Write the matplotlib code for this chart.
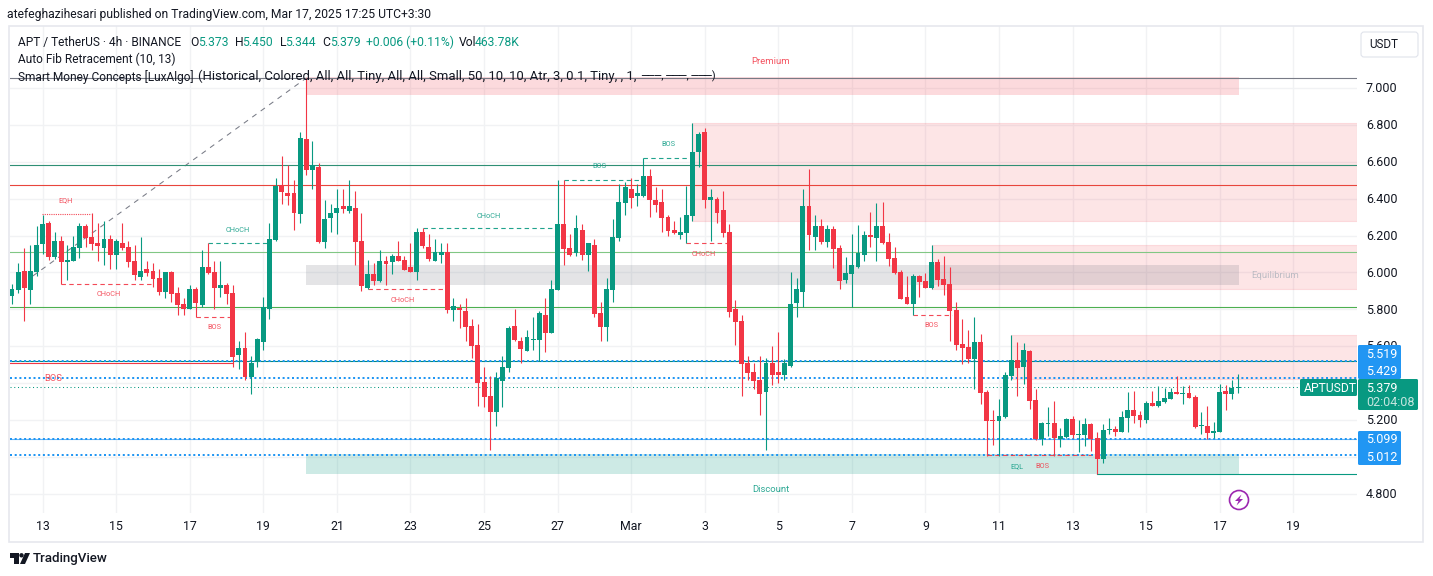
import matplotlib
matplotlib.use("Agg")
import matplotlib.pyplot as plt
from matplotlib.patches import Rectangle, FancyBboxPatch, Circle, Polygon

plt.rcParams['font.family'] = ['Roboto', 'DejaVu Sans']

opens = [5.873,5.905,6.008,5.905,6.003,6.155,6.268,6.084,6.171,6.057,6.062,6.133,6.252,6.192,6.160,6.133,6.182,6.095,6.160,6.138,
         6.062,5.976,6.019,6.008,5.970,5.894,6.003,5.889,5.829,5.802,5.911,5.824,6.030,6.003,5.916,5.932,5.889,5.553,5.591,5.434,
         5.517,5.623,5.802,6.176,6.474,6.431,6.431,6.317,6.724,6.556,6.572,6.165,6.295,6.323,6.361,6.333,6.350,6.171,5.916,5.992,
         5.954,6.062,6.057,6.089,6.068,6.030,6.003,6.220,6.138,6.062,6.095,6.111,5.797,5.808,5.791,5.710,5.607,5.407,5.331,5.244,
         5.412,5.482,5.710,5.629,5.575,5.634,5.634,5.770,5.672,5.905,6.263,6.133,6.106,6.230,6.095,6.149,5.781,5.705,5.905,6.187,
         6.377,6.453,6.415,6.415,6.523,6.393,6.382,6.301,6.231,6.203,6.214,6.306,6.653,6.762,6.393,6.399,6.339,6.220,5.802,5.737,
         5.510,5.461,5.418,5.353,5.510,5.461,5.445,5.493,5.835,5.895,6.361,6.193,6.252,6.166,6.236,6.133,5.960,5.992,6.030,6.095,
         6.203,6.187,6.252,6.166,6.079,6.003,5.867,5.829,5.981,5.954,5.916,6.057,5.965,5.938,5.797,5.612,5.596,5.531,5.623,5.352,
         5.200,5.195,5.217,5.439,5.526,5.488,5.574,5.309,5.097,5.179,5.184,5.097,5.108,5.206,5.119,5.119,5.179,5.103,4.989,5.146,
         5.152,5.135,5.211,5.255,5.227,5.200,5.293,5.276,5.298,5.314,5.352,5.343,5.347,5.325,5.168,5.168,5.130,5.135,5.358,5.341,5.373]
highs = [5.938,6.050,6.133,6.149,6.252,6.312,6.279,6.220,6.198,6.149,6.198,6.268,6.263,6.321,6.268,6.279,6.203,6.182,6.268,6.171,
         6.149,6.192,6.062,6.050,6.019,6.003,6.008,5.921,5.862,5.932,5.921,6.122,6.158,6.062,6.062,5.945,5.932,5.629,5.678,5.548,
         5.642,5.867,6.268,6.512,6.631,6.583,6.501,6.762,7.054,6.713,6.594,6.393,6.371,6.453,6.453,6.501,6.442,6.323,6.068,6.052,
         6.122,6.089,6.100,6.171,6.089,6.160,6.241,6.241,6.209,6.182,6.160,6.160,5.862,5.829,5.862,5.748,5.721,5.488,5.439,5.461,
         5.548,5.710,5.802,5.651,5.688,5.759,5.791,5.862,5.959,6.501,6.501,6.209,6.312,6.263,6.162,6.182,5.840,5.970,6.290,6.480,
         6.491,6.511,6.480,6.619,6.561,6.464,6.453,6.312,6.279,6.301,6.469,6.809,6.762,6.783,6.453,6.409,6.442,6.263,5.851,5.770,
         5.548,5.510,5.548,5.537,5.602,5.678,5.531,6.003,5.970,6.453,6.561,6.312,6.290,6.258,6.252,6.149,6.084,6.209,6.258,6.225,
         6.328,6.377,6.382,6.214,6.138,6.014,5.981,5.992,5.986,5.998,6.149,6.073,6.089,6.030,5.840,5.748,5.688,5.759,5.667,5.363,
         5.255,5.314,5.461,5.661,5.623,5.618,5.582,5.368,5.190,5.271,5.303,5.157,5.211,5.222,5.200,5.211,5.184,5.135,5.179,5.211,
         5.168,5.249,5.352,5.358,5.249,5.303,5.358,5.385,5.374,5.374,5.439,5.385,5.390,5.336,5.244,5.276,5.190,5.396,5.390,5.417,5.450]
lows = [5.829,5.891,5.737,5.829,5.981,6.100,6.068,6.071,5.936,5.959,6.060,6.079,6.138,6.122,6.062,6.041,6.019,6.019,6.122,6.030,
        5.959,5.959,5.981,5.923,5.878,5.862,5.840,5.770,5.770,5.800,5.759,5.813,5.992,5.802,5.867,5.829,5.488,5.477,5.418,5.342,
        5.488,5.580,5.748,6.168,6.371,6.366,6.230,6.268,6.529,6.453,6.160,6.133,6.220,6.209,6.323,6.323,6.041,5.900,5.911,5.932,
        5.949,5.932,5.992,6.060,6.012,6.001,5.959,6.133,6.062,6.060,6.052,5.781,5.737,5.699,5.629,5.537,5.276,5.271,5.038,5.168,
        5.271,5.461,5.629,5.510,5.573,5.580,5.520,5.569,5.670,5.903,6.041,6.089,6.089,6.068,6.008,5.759,5.629,5.629,5.840,6.171,
        6.312,6.350,6.361,6.409,6.301,6.328,6.220,6.198,6.209,6.182,6.158,6.279,6.572,6.350,6.171,6.269,6.193,5.759,5.607,5.331,
        5.418,5.369,5.228,5.038,5.390,5.401,5.418,5.488,5.759,5.813,6.122,6.122,6.155,6.138,6.025,5.911,5.943,5.811,6.025,6.063,
        6.138,6.063,6.155,6.035,5.992,5.855,5.827,5.770,5.867,5.914,5.911,5.927,5.878,5.629,5.580,5.504,5.509,5.368,5.287,5.005,
        5.065,5.005,5.211,5.417,5.330,5.396,5.260,5.092,5.065,5.114,5.005,5.054,5.103,5.103,5.027,5.059,5.032,4.908,4.967,5.124,
        5.114,5.133,5.135,5.184,5.162,5.184,5.274,5.271,5.293,5.312,5.339,5.287,5.318,5.157,5.124,5.097,5.103,5.133,5.255,5.314,5.344]
closes = [5.911,6.003,5.916,6.008,6.149,6.263,6.084,6.171,6.057,6.068,6.138,6.252,6.187,6.155,6.144,6.182,6.095,6.171,6.133,6.057,
          5.987,6.008,5.997,5.965,5.894,6.003,5.884,5.824,5.802,5.911,5.835,6.030,5.997,5.916,5.932,5.884,5.542,5.591,5.434,5.510,
          5.640,5.811,6.182,6.471,6.436,6.414,6.323,6.729,6.556,6.583,6.165,6.290,6.323,6.350,6.344,6.361,6.165,5.927,5.992,5.954,
          6.062,6.046,6.089,6.062,6.014,6.003,6.220,6.144,6.073,6.111,6.111,5.797,5.818,5.797,5.705,5.602,5.401,5.325,5.244,5.428,
          5.488,5.699,5.634,5.585,5.651,5.640,5.781,5.672,5.911,6.263,6.127,6.095,6.241,6.095,6.160,5.775,5.705,5.911,6.192,6.382,
          6.464,6.404,6.431,6.523,6.393,6.366,6.296,6.225,6.214,6.220,6.312,6.653,6.751,6.393,6.409,6.323,6.214,5.786,5.732,5.504,
          5.456,5.412,5.342,5.510,5.445,5.445,5.510,5.829,5.911,6.361,6.203,6.252,6.166,6.236,6.128,5.954,5.998,6.041,6.106,6.203,
          6.193,6.252,6.160,6.073,5.998,5.857,5.829,5.981,5.949,5.916,6.057,5.960,5.932,5.791,5.607,5.591,5.531,5.623,5.347,5.195,
          5.195,5.222,5.444,5.526,5.482,5.580,5.303,5.097,5.184,5.184,5.103,5.114,5.206,5.119,5.124,5.179,5.097,4.989,5.146,5.152,
          5.135,5.217,5.255,5.222,5.200,5.293,5.276,5.303,5.320,5.352,5.341,5.347,5.320,5.162,5.173,5.130,5.141,5.352,5.341,5.374,5.379]

grid_prices = [7.0, 6.8, 6.6, 6.4, 6.2, 6.0, 5.8, 5.6, 5.4, 5.2, 5.0, 4.8]
price_ticks = [7.0, 6.8, 6.6, 6.4, 6.2, 6.0, 5.8, 5.6, 5.2, 4.8]
price_labels = ['7.000', '6.800', '6.600', '6.400', '6.200', '6.000', '5.800', '5.600', '5.200', '4.800']
date_ticks = [5, 17, 29, 41, 53, 65, 77, 89, 101, 113, 125, 137, 149, 161, 173, 185, 197, 209]
date_labels = ['13', '15', '17', '19', '21', '23', '25', '27', 'Mar', '3', '5', '7', '9', '11', '13', '15', '17', '19']

GREEN, RED, BLUE = '#089981', '#f23645', '#2196f3'
W, H = 1433, 576
XL, XR = -0.33, 219.4
fig = plt.figure(figsize=(W / 100, H / 100), dpi=100, facecolor='white')

# pane: px x 10..1357, y 26..513
ax = fig.add_axes([10 / W, 1 - 513 / H, 1347 / W, 487 / H])
ax.set_xlim(XL, XR)
ax.set_ylim(4.696, 7.336)
for s in ax.spines.values():
    s.set_visible(False)
ax.set_yticks(grid_prices)
ax.set_yticklabels([])
ax.set_xticks(date_ticks)
ax.set_xticklabels([])
ax.tick_params(length=0)
ax.grid(True, color='#f1f2f4', lw=1.0, zorder=0)
ax.set_axisbelow(True)

# zones (i0, i1, low, high, colour, alpha, edge width)
zones = [(48, 200.2, 6.962, 7.057, RED, .18, 0), (111, XR, 6.281, 6.809, RED, .13, .8),
         (150, XR, 5.912, 6.149, RED, .13, .8), (163, XR, 5.423, 5.661, RED, .13, .8),
         (48, 200.2, 5.932, 6.041, '#787b86', .2, 0), (48, 200.2, 4.908, 5.016, GREEN, .2, 0)]
for i0, i1, lo, hi, c, a, e in zones:
    ax.add_patch(Rectangle((i0, lo), i1 - i0, hi - lo, fc=c, alpha=a, ec=c, lw=e, zorder=1))

# fib levels
ax.plot([3.4, 48], [5.981, 7.054], color='#787b86', lw=.75, dashes=(5, 5), zorder=2)
levels = [(7.054, '#787b86'), (6.583, '#2f8f74'), (6.4725, '#e8453c'), (6.109, '#81c784'), (5.811, '#4caf50'), (5.520, '#00897b')]
for p, c in levels:
    ax.axhline(p, color=c, lw=.8, zorder=2)
ax.plot([XL, 36], [5.508, 5.508], color=RED, lw=.8, zorder=2)
ax.plot([177, XR], [4.908, 4.908], color=GREEN, lw=.8, zorder=2)

# price lines
ax.axhline(5.099, color='#64b5f6', lw=.8, zorder=2)
for p in [5.519, 5.429, 5.099, 5.012]:
    ax.plot([XL, XR], [p, p], color=BLUE, lw=1.44, dashes=(1, 1.35), zorder=2.2)
ax.plot([XL, XR], [5.379, 5.379], color=GREEN, lw=.75, dashes=(1, 2.6), zorder=2.2)

# structure lines (i0, i1, price, colour, style)
structure = [(4.9, 12.9, 6.315, RED, (1, 1)), (8, 22.8, 5.936, RED, (4, 3)), (32, 42, 6.158, GREEN, (4, 3)),
             (30, 36, 5.757, RED, (4, 3)), (58, 71, 5.909, RED, (4, 3)), (67, 89, 6.239, GREEN, (4, 3)),
             (90, 102.6, 6.500, GREEN, (4, 3)), (103, 111, 6.620, GREEN, (4, 3)), (110, 117, 6.158, RED, (4, 3)),
             (147, 153.3, 5.770, RED, (4, 3)), (159, 176, 5.009, RED, (4, 3))]
for i0, i1, p, c, d in structure:
    ax.plot([i0, i1], [p, p], color=c, lw=.8, dashes=d, alpha=.9, zorder=2.5)

# candles
for i, (o, h, l, c) in enumerate(zip(opens, highs, lows, closes)):
    col = GREEN if c >= o else RED
    ax.vlines(i, l, h, color=col, lw=.8, zorder=3)
    ax.bar(i, max(abs(c - o), .006), bottom=min(o, c), width=.8, color=col, lw=0, zorder=3.1)

# structure labels (i, price, text, colour, size)
labels = [(8.8, 6.388, 'EQH', RED, 5.3), (15.8, 5.878, 'CHoCH', RED, 5.3), (36.9, 6.230, 'CHoCH', GREEN, 5.3),
          (33, 5.699, 'BOS', RED, 5.3), (6.7, 5.423, 'BOS', RED, 6.8), (63.8, 5.846, 'CHoCH', RED, 5.3),
          (77.8, 6.306, 'CHoCH', GREEN, 5.3), (95.8, 6.572, 'BOS', GREEN, 5.3), (107, 6.691, 'BOS', GREEN, 5.3),
          (112.9, 6.095, 'CHoCH', RED, 5.3), (150, 5.710, 'BOS', RED, 5.3), (164, 4.946, 'EQL', GREEN, 5.3),
          (168, 4.946, 'BOS', RED, 5.3), (123.8, 7.146, 'Premium', RED, 6.8), (123.8, 4.821, 'Discount', GREEN, 6.8),
          (206, 5.981, 'Equilibrium', '#b2b5be', 6.8)]
for i, p, t_, c, s in labels:
    ax.text(i, p, t_, color=c, fontsize=s, ha='center', va='center', alpha=.85, zorder=4)

# chrome overlay in pixel space
ov = fig.add_axes([0, 0, 1, 1], facecolor='none')
ov.set_xlim(0, W)
ov.set_ylim(H, 0)
ov.axis('off')
ov.add_patch(Rectangle((9.5, 25.5), 1414, 516, fc='none', ec='#e6e8ee', lw=1.2))

TXT = '#131722'
def t(x, y, s, c=TXT, size=9, ha='left', z=5, **kw):
    ov.text(x, y + 0.7, s, color=c, fontsize=size, ha=ha, va='center', zorder=z, **kw)

t(7, 14, 'atefeghazihesari published on TradingView.com, Mar 17, 2025 17:25 UTC+3:30', size=8.7)
t(18, 42, 'APT / TetherUS · 4h · BINANCE', size=8.6)
for x, s, c in [(190, 'O', TXT), (198, '5.373', GREEN), (235, 'H', TXT), (242.5, '5.450', GREEN), (280, 'L', TXT),
                (285.5, '5.344', GREEN), (322.6, 'C', TXT), (330.5, '5.379', GREEN), (366, '+0.006 (+0.11%)', GREEN),
                (458.6, 'Vol', TXT), (475, '463.78K', GREEN)]:
    t(x, 42, s, c, 8.7)
t(18, 59, 'Auto Fib Retracement (10, 13)', size=8.6)
t(18, 76, 'Smart Money Concepts [LuxAlgo]', size=8.6)
t(198, 76, '(Historical, Colored, All, All, Tiny, All, All, Small, 50, 10, 10, Atr, 3, 0.1, Tiny, , 1,', size=9.45)
t(641, 76, '───, ───, ───)', size=8.05)

# price axis
for p, s in zip(price_ticks, price_labels):
    y = fig.transFigure.inverted().transform(ax.transData.transform((0, p)))[1]
    t(1366, (1 - y) * H, s, size=9, z=1)

# date axis
for i, s in zip(date_ticks, date_labels):
    x = fig.transFigure.inverted().transform(ax.transData.transform((i, 5)))[0] * W
    t(x, 526, s, size=8.9, ha='center')

# price labels
for xy, w, h, c in [((1358, 345), 43, 34, BLUE), ((1358, 431), 43, 34, BLUE), ((1358, 379), 60, 31, GREEN), ((1300, 379), 57, 17, GREEN)]:
    ov.add_patch(FancyBboxPatch(xy, w, h, boxstyle='round,pad=0,rounding_size=1.5', fc=c, ec='none', zorder=2))
t(1366, 353.5, '5.519', 'white', 9)
t(1366, 370.5, '5.429', 'white', 9)
t(1366, 388, '5.379', 'white', 9)
t(1366, 402, '02:04:08', '#c4e6df', 9)
t(1366, 439, '5.099', 'white', 9)
t(1366, 456.5, '5.012', 'white', 9)
t(1304, 388, 'APTUSDT', 'white', 8.7)

# currency button
ov.add_patch(FancyBboxPatch((1361, 32), 57, 25, boxstyle='round,pad=0,rounding_size=3', fc='white', ec='#e0e3eb', lw=.8))
t(1383.5, 44, 'USDT', size=8.4, ha='center')

# bolt icon
ov.add_patch(Circle((1239, 500), 9.5, fc='white', ec='#9c27b0', lw=1.2))
ov.add_patch(Polygon([(1241.5, 494.5), (1235, 501), (1238.5, 501), (1236.5, 505.5), (1243, 499), (1239.5, 499)], fc='#9c27b0', ec='none'))

# logo
ov.add_patch(Polygon([(10, 553), (19, 553), (19, 564), (14, 564), (14, 557.5), (10, 557.5)], fc=TXT, ec='none'))
ov.add_patch(Circle((21.5, 555.3), 2.2, fc=TXT, ec='none'))
ov.add_patch(Polygon([(25, 553), (30, 553), (25, 564), (20, 564)], fc=TXT, ec='none'))
t(33, 558, 'TradingView', size=9.6, fontweight='medium')

fig.savefig('out.png', dpi=100, facecolor='white')
